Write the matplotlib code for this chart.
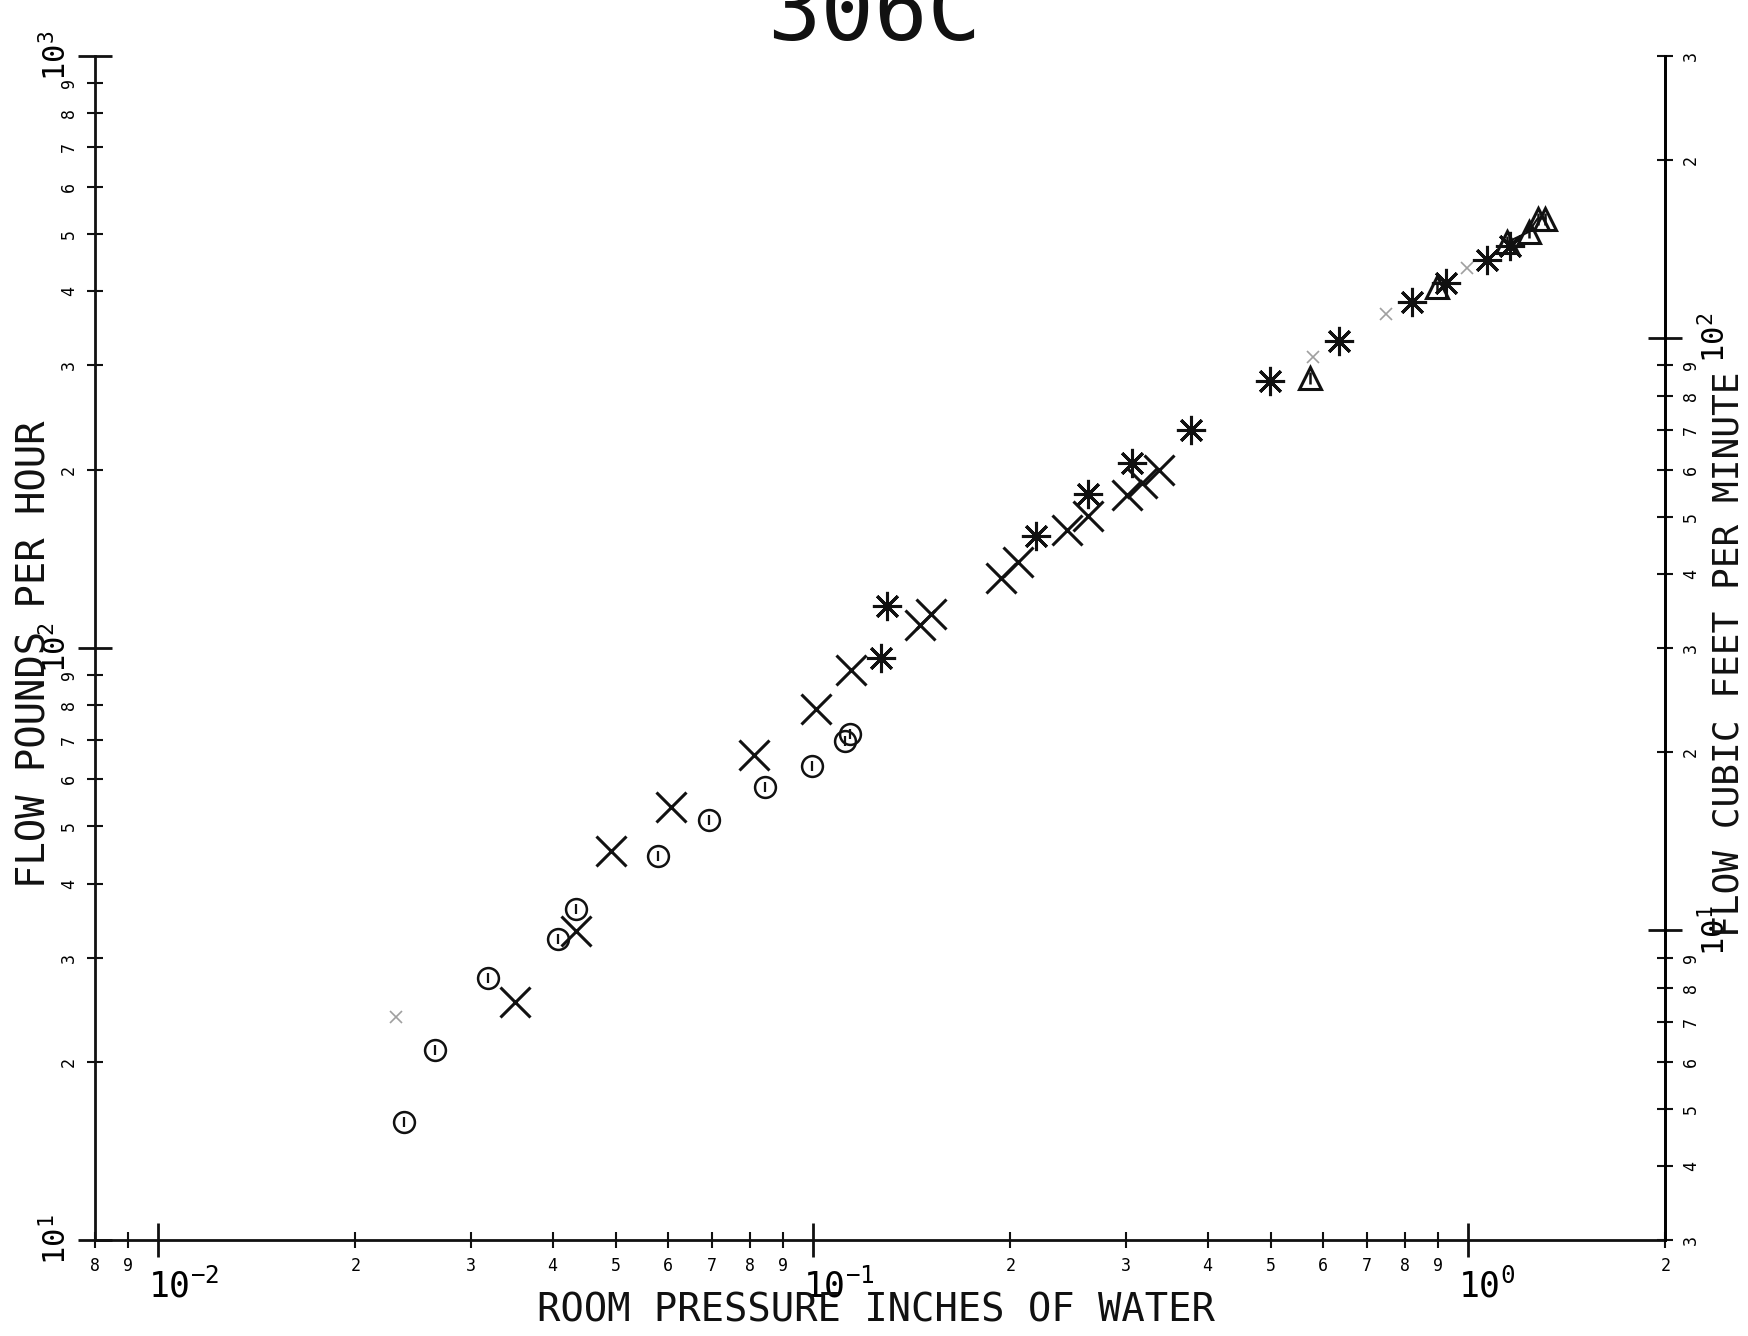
import numpy as np
import matplotlib
matplotlib.use("Agg")
import matplotlib.pyplot as plt
import matplotlib.transforms as mtransforms
from matplotlib.ticker import LogLocator, FuncFormatter

plt.rcParams["font.family"] = ["DejaVu Sans Mono"]
plt.rcParams["mathtext.fontset"] = "custom"
plt.rcParams["mathtext.rm"] = "DejaVu Sans Mono"
plt.rcParams["mathtext.it"] = "DejaVu Sans Mono"

# room pressure (in. water) vs flow (lb/hr)
circle_x = [0.0237, 0.0265, 0.0319, 0.0408, 0.0434, 0.0579, 0.0693, 0.0844, 0.0996, 0.1117, 0.1139]
circle_y = [15.8, 20.9, 27.7, 32.3, 36.3, 44.6, 51.3, 58.2, 63.2, 69.5, 71.6]

cross_x = [0.0350, 0.0434, 0.0491, 0.0607, 0.0812, 0.1008, 0.1143, 0.1453, 0.1512,
           0.1937, 0.2055, 0.2443, 0.2623, 0.3010, 0.3180, 0.3375]
cross_y = [25.2, 33.2, 45.4, 53.8, 65.9, 78.8, 91.7, 109.5, 113.9,
           131.4, 139.6, 158.3, 166.9, 181.1, 190.0, 200.1]

star_x = [0.1271, 0.1297, 0.2188, 0.2623, 0.3070, 0.3768, 0.4983, 0.6360, 0.8215, 0.9243, 1.069, 1.157]
star_y = [96.2, 117.9, 154.3, 181.9, 205.4, 232.9, 281.9, 329.6, 383.6, 412.8, 452.2, 476.4]

tri_x = [0.5741, 0.8956, 1.148, 1.237, 1.276, 1.312]
tri_y = [285.6, 407.5, 484.7, 504.0, 531.0, 531.0]

# faded marks that barely printed
faint_x = [0.0231, 0.5785, 0.7502, 0.9960]
faint_y = [23.8, 310.0, 367.0, 438.8]

x_lim = (0.008, 2.0)
y_lim = (10, 1000)
cfm_lim = (3, 300)

fig = plt.figure(figsize=(17.49, 13.36), dpi=100)
ax = fig.add_axes([0.0542, 0.0718, 0.898, 0.8865])
ax.set_xscale("log")
ax.set_yscale("log")
ax.set_xlim(*x_lim)
ax.set_ylim(*y_lim)

ink = "#111111"
ax.plot(circle_x, circle_y, ls="none", marker="o", ms=15, mfc="none", mec=ink, mew=1.8)
ax.plot(circle_x, circle_y, ls="none", marker="|", ms=7, mec=ink, mew=1.6)
ax.plot(cross_x, cross_y, ls="none", marker="x", ms=21, mec=ink, mew=2.2)
ax.plot(star_x, star_y, ls="none", marker=(8, 2, 0), ms=21, mec=ink, mew=2.2)
ax.plot(tri_x[2:], tri_y[2:], color=ink, lw=1.5)
ax.plot(tri_x, tri_y, ls="none", marker="^", ms=16, mfc="none", mec=ink, mew=2.2)
ax.plot(tri_x, tri_y, ls="none", marker="|", ms=8, mec=ink, mew=1.8)
ax.plot(faint_x, faint_y, ls="none", marker="x", ms=9, mec="#777777", mew=1.2, alpha=0.7)

for s in ["left", "bottom", "right"]:
    ax.spines[s].set_linewidth(2)
    ax.spines[s].set_color(ink)
ax.spines["top"].set_visible(False)


def minor_digit(v, pos):
    d = v / 10 ** np.floor(np.log10(v) + 1e-9)
    return str(int(round(d)))


def major_pow(v, pos):
    return r"$10^{%d}$" % int(round(np.log10(v)))


for axis in [ax.xaxis, ax.yaxis]:
    axis.set_major_locator(LogLocator(base=10))
    axis.set_minor_locator(LogLocator(base=10, subs=np.arange(2, 10)))
    axis.set_major_formatter(FuncFormatter(major_pow))
    axis.set_minor_formatter(FuncFormatter(minor_digit))

ax.tick_params(which="major", direction="inout", length=24, width=2, color=ink)
ax.tick_params(which="minor", direction="inout", length=12, width=1.5, color=ink, labelsize=12)
ax.tick_params(axis="x", which="major", labelsize=25, pad=8)
ax.tick_params(axis="x", which="minor", pad=6)
ax.tick_params(axis="y", which="both", labelrotation=90)
ax.tick_params(axis="y", which="major", labelsize=22, pad=4)
ax.tick_params(axis="y", which="minor", pad=6)
for lab in ax.get_yticklabels(which="both"):
    lab.set_va("center")

# the plotter starts the big decade labels just left of their tick
shift = mtransforms.ScaledTranslation(-10 / 100, 0, fig.dpi_scale_trans)
for lab in ax.get_xticklabels(which="major"):
    lab.set_ha("left")
    lab.set_transform(lab.get_transform() + shift)

ax2 = ax.twinx()
ax2.set_yscale("log")
ax2.set_ylim(*cfm_lim)
for s in ["left", "bottom", "top"]:
    ax2.spines[s].set_visible(False)
ax2.spines["right"].set_linewidth(2)
ax2.yaxis.set_major_locator(LogLocator(base=10))
ax2.yaxis.set_minor_locator(LogLocator(base=10, subs=np.arange(2, 10)))
ax2.yaxis.set_major_formatter(FuncFormatter(major_pow))
ax2.yaxis.set_minor_formatter(FuncFormatter(minor_digit))
ax2.tick_params(which="major", direction="inout", length=24, width=2, color=ink, labelsize=22, pad=12)
ax2.tick_params(which="minor", direction="inout", length=12, width=1.5, color=ink, labelsize=12, pad=6)
ax2.tick_params(axis="y", which="both", labelrotation=90)
for lab in ax2.get_yticklabels(which="both"):
    lab.set_va("center")

fig.text(0.5, 0.970, "306C", ha="center", va="baseline", fontsize=64, color=ink)
fig.text(0.501, 0.019, "ROOM PRESSURE INCHES OF WATER", ha="center", va="center",
         fontsize=28, color=ink)
fig.text(0.020, 0.51, "FLOW POUNDS PER HOUR", rotation=90, ha="center", va="center",
         fontsize=28, color=ink)
fig.text(0.988, 0.51, "FLOW CUBIC FEET PER MINUTE", rotation=90, ha="center", va="center",
         fontsize=26, color=ink)

fig.savefig("out.png", dpi=100)
